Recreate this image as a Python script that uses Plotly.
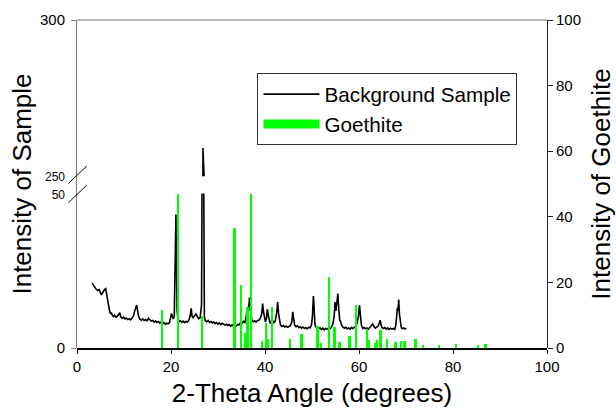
import plotly.graph_objects as go

# Background sample XRD scan: 2-theta (degrees) and counts
sample_theta = [
    3.2, 3.5, 3.8, 4.1, 4.4, 4.7, 5.0, 5.2, 5.4, 5.6, 5.9, 6.1, 6.3, 6.5, 6.7, 6.9,
    7.1, 7.3, 7.5, 7.8, 8.0, 8.3, 8.6, 8.9, 9.1, 9.3, 9.6, 9.9, 10.2, 10.5, 10.8,
    11.1, 11.4, 11.7, 12.0, 12.3, 12.5, 12.7, 12.9, 13.1, 13.4, 13.7, 14.0, 14.3,
    14.6, 14.9, 15.2, 15.5, 15.8, 16.1, 16.4, 16.7, 17.0, 17.3, 17.6, 17.9, 18.2,
    18.5, 18.8, 19.1, 19.4, 19.7, 19.9, 20.1, 20.3, 20.5, 20.7, 20.9, 21.05, 21.15,
    21.3, 21.5, 21.7, 22.0, 22.3, 22.6, 22.9, 23.2, 23.5, 23.8, 24.1, 24.3, 24.5,
    24.7, 25.0, 25.3, 25.6, 25.9, 26.2, 26.5, 26.65, 26.8, 26.95, 27.1, 27.3, 27.6,
    27.9, 28.2, 28.5, 28.8, 29.1, 29.4, 29.7, 30.0, 30.3, 30.6, 30.9, 31.2, 31.5,
    31.8, 32.1, 32.4, 32.7, 33.0, 33.3, 33.6, 33.9, 34.2, 34.5, 34.8, 35.1, 35.4,
    35.7, 35.9, 36.1, 36.3, 36.5, 36.7, 36.85, 37.0, 37.2, 37.5, 37.8, 38.1, 38.4,
    38.7, 39.0, 39.3, 39.5, 39.7, 39.9, 40.1, 40.3, 40.5, 40.7, 40.9, 41.1, 41.3,
    41.6, 41.9, 42.2, 42.5, 42.7, 42.9, 43.1, 43.3, 43.6, 43.9, 44.2, 44.5, 44.8,
    45.1, 45.4, 45.7, 45.9, 46.1, 46.3, 46.6, 46.9, 47.2, 47.5, 47.8, 48.1, 48.4,
    48.7, 49.0, 49.3, 49.6, 49.9, 50.1, 50.3, 50.45, 50.6, 50.8, 51.1, 51.4, 51.7,
    52.0, 52.3, 52.6, 52.9, 53.2, 53.5, 53.8, 54.1, 54.4, 54.7, 54.9, 55.1, 55.3,
    55.5, 55.7, 55.9, 56.1, 56.3, 56.6, 56.9, 57.2, 57.5, 57.8, 58.1, 58.4, 58.7,
    59.0, 59.3, 59.6, 59.9, 60.1, 60.3, 60.5, 60.8, 61.1, 61.4, 61.7, 62.0, 62.3,
    62.6, 62.9, 63.2, 63.5, 63.8, 64.1, 64.3, 64.5, 64.7, 64.9, 65.2, 65.5, 65.8,
    66.1, 66.4, 66.7, 67.0, 67.3, 67.6, 67.8, 68.0, 68.15, 68.3, 68.45, 68.6, 68.8,
    69.0, 69.2, 69.5, 69.8, 70.1,
]
sample_intensity = [
    21.0, 20.2, 19.8, 19.0, 18.6, 18.9, 17.9, 17.2, 17.8, 18.5, 19.0, 19.2, 17.5, 14.8, 12.9, 12.2,
    11.1, 11.5, 10.6, 10.2, 10.6, 9.9, 10.3, 10.8, 11.4, 10.1, 9.6, 10.0, 9.4, 9.7, 9.2,
    9.5, 9.1, 9.6, 10.4, 12.1, 13.6, 13.9, 12.0, 10.3, 9.3, 9.0, 9.4, 8.9,
    9.2, 8.8, 9.6, 9.0, 8.7, 8.9, 8.4, 8.8, 8.3, 8.6, 8.1, 8.4, 7.9,
    8.2, 7.7, 8.0, 7.8, 8.3, 9.6, 11.2, 10.1, 9.4, 10.5, 24.0, 43.2, 29.0,
    12.0, 9.0, 8.5, 8.8, 8.3, 8.7, 8.2, 8.6, 8.4, 9.0, 10.5, 12.8, 10.2,
    9.8, 10.4, 11.0, 10.2, 9.5, 9.8, 14.0, 70.0, 259.0, 60.0, 10.0, 8.8, 8.5,
    8.9, 8.3, 8.6, 8.1, 8.4, 7.9, 8.2, 7.7, 8.1, 7.6, 8.0, 7.8, 7.4,
    7.7, 7.3, 7.6, 7.1, 7.5, 7.0, 7.4, 7.2, 7.6, 7.5, 8.1, 8.0, 8.6,
    8.2, 9.4, 11.0, 13.3, 12.0, 16.3, 13.0, 10.0, 9.0, 8.5, 8.8, 8.4, 8.9,
    9.0, 9.6, 11.0, 14.4, 11.5, 9.0, 8.5, 9.5, 12.5, 10.5, 8.6, 8.0, 8.4,
    8.9, 8.2, 8.8, 11.5, 14.9, 11.0, 8.0, 7.4, 7.0, 7.3, 6.8, 7.1, 6.7,
    7.0, 7.2, 8.4, 11.7, 9.5, 7.4, 6.9, 7.2, 6.6, 6.9, 6.4, 6.8, 6.3,
    6.6, 6.2, 6.7, 6.5, 7.5, 10.5, 16.8, 13.0, 8.0, 6.9, 6.6, 6.2, 6.5,
    6.0, 6.4, 5.9, 6.3, 6.1, 6.5, 6.2, 6.6, 7.5, 10.0, 14.9, 12.0, 15.0,
    17.6, 12.5, 9.0, 8.5, 7.4, 6.8, 6.4, 6.7, 6.2, 6.5, 6.1, 6.6, 6.3,
    6.7, 6.9, 8.0, 10.5, 13.9, 11.0, 7.5, 6.3, 6.6, 6.2, 6.5, 6.1, 6.7,
    7.4, 7.8, 6.9, 6.4, 6.8, 7.2, 8.0, 9.0, 7.5, 6.6, 6.3, 6.6, 6.1,
    6.5, 6.0, 6.4, 6.1, 6.3, 6.0, 7.2, 10.0, 13.0, 12.0, 15.7, 11.0, 8.0,
    6.6, 6.3, 6.5, 6.2, 6.3,
]

# Goethite reference stick pattern: 2-theta (degrees) and relative intensity
goethite_theta = [
    18.1, 21.5, 26.7, 33.6, 35.0, 35.85, 36.3, 37.05, 39.4, 40.3, 40.7, 41.6,
    45.4, 47.8, 51.2, 52.0, 53.7, 54.8, 55.9, 58.0, 59.4, 61.8, 62.2, 63.5,
    63.9, 64.6, 66.0, 67.8, 69.0, 69.7, 72.1, 73.7, 77.1, 80.7, 85.4, 87.0,
]
goethite_intensity = [
    11.6, 47.0, 9.8, 36.5, 19.2, 4.5, 12.6, 47.0, 2.1, 7.6, 2.8, 12.4,
    2.8, 4.2, 6.7, 1.4, 21.6, 6.3, 1.9, 3.7, 13.1, 5.7, 2.5, 1.6,
    2.3, 5.5, 2.8, 1.9, 2.1, 2.2, 2.8, 0.9, 0.9, 1.2, 0.9, 1.2,
]

theta_ticks = [0, 20, 40, 60, 80, 100]
goethite_ticks = [0, 20, 40, 60, 80, 100]
sample_low_ticks = [0, 50]
sample_high_ticks = [250, 300]

FONT = "Liberation Sans, Arial, sans-serif"
AXIS_GRAY = "#7a7a7a"
LOW_TOP = 0.471        # top of the 0-50 segment
HIGH_BOTTOM = 0.524    # bottom of the 250-300 segment


def small(label):
    return "<span style='font-size:12px'>" + label + "</span>"


fig = go.Figure()

# Sample scan, drawn once per segment of the broken axis
fig.add_trace(go.Scatter(
    x=sample_theta, y=sample_intensity, mode="lines",
    line=dict(color="black", width=1.6), name="Background Sample",
    xaxis="x", yaxis="y", showlegend=True,
))
fig.add_trace(go.Bar(
    x=goethite_theta, y=goethite_intensity, width=0.4,
    marker=dict(color="#00ff00", line=dict(width=0)),
    name="Goethite", xaxis="x", yaxis="y2", showlegend=False,
))
fig.add_trace(go.Scatter(
    x=sample_theta, y=sample_intensity, mode="lines",
    line=dict(color="black", width=1.6), name="Background Sample",
    xaxis="x", yaxis="y3", showlegend=False,
))
# Legend key for the goethite sticks
fig.add_trace(go.Scatter(
    x=[None], y=[None], mode="lines",
    line=dict(color="#00ff00", width=9), name="Goethite",
    xaxis="x", yaxis="y4", showlegend=True,
))

common_y = dict(showgrid=False, zeroline=False, anchor="x",
                tickfont=dict(family=FONT, size=15, color="black"))

fig.update_layout(
    width=616, height=408,
    margin=dict(l=77, r=69, t=20, b=60, autoexpand=False),
    paper_bgcolor="white", plot_bgcolor="rgba(0,0,0,0)",
    font=dict(family=FONT, color="black"),
    showlegend=True,
    bargap=0,
    xaxis=dict(
        domain=[0, 1], range=[0, 100], tickvals=theta_ticks,
        ticks="outside", ticklen=4, tickcolor="black", tickwidth=1,
        showline=True, linecolor="black", linewidth=2,
        showgrid=False, zeroline=False,
        tickfont=dict(family=FONT, size=15, color="black"),
        title=dict(text="2-Theta Angle (degrees)",
                   font=dict(family=FONT, size=26, color="black"), standoff=13),
    ),
    yaxis=dict(
        domain=[0, LOW_TOP], range=[0, 50],
        tickvals=sample_low_ticks, ticktext=["0", small("50")],
        ticks="", showline=False, ticklabelstandoff=11,
        minor=dict(tickvals=[0], ticks="outside", ticklen=5, tickcolor=AXIS_GRAY),
        **common_y,
    ),
    yaxis3=dict(
        domain=[HIGH_BOTTOM, 1], range=[250, 300],
        tickvals=sample_high_ticks, ticktext=[small("250"), "300"],
        ticks="", showline=False, ticklabelstandoff=11,
        minor=dict(tickvals=[300], ticks="outside", ticklen=5, tickcolor=AXIS_GRAY),
        **common_y,
    ),
    yaxis4=dict(
        domain=[0, 1], range=[0, 1], side="left",
        showline=True, linecolor=AXIS_GRAY, linewidth=1,
        showticklabels=False, ticks="", showgrid=False, zeroline=False, anchor="x",
        title=dict(text="Intensity of Sample",
                   font=dict(family=FONT, size=26, color="black"), standoff=36),
    ),
    yaxis2=dict(
        domain=[0, 1], range=[0, 100], side="right",
        tickvals=goethite_ticks, ticks="outside", ticklen=5, tickcolor="#222",
        showline=True, linecolor="#222", linewidth=1,
        title=dict(text="Intensity of Goethite",
                   font=dict(family=FONT, size=26, color="black"), standoff=24),
        **common_y,
    ),
    legend=dict(
        x=0.384, y=0.838, xanchor="left", yanchor="top",
        bgcolor="white", bordercolor="#333", borderwidth=1,
        font=dict(family=FONT, size=20.7, color="black"),
        itemwidth=56, traceorder="normal", tracegroupgap=0,
    ),
    shapes=[
        # top frame line
        dict(type="line", xref="paper", yref="paper", x0=0, x1=1, y0=1, y1=1,
             line=dict(color=AXIS_GRAY, width=1)),
        # break marks on the sample axis
        dict(type="line", xref="paper", yref="paper",
             x0=-0.018, x1=0.021, y0=0.502, y1=0.555,
             line=dict(color="black", width=1)),
        dict(type="line", xref="paper", yref="paper",
             x0=-0.018, x1=0.021, y0=0.443, y1=0.497,
             line=dict(color="black", width=1)),
    ],
)

fig.write_html("out.html")
